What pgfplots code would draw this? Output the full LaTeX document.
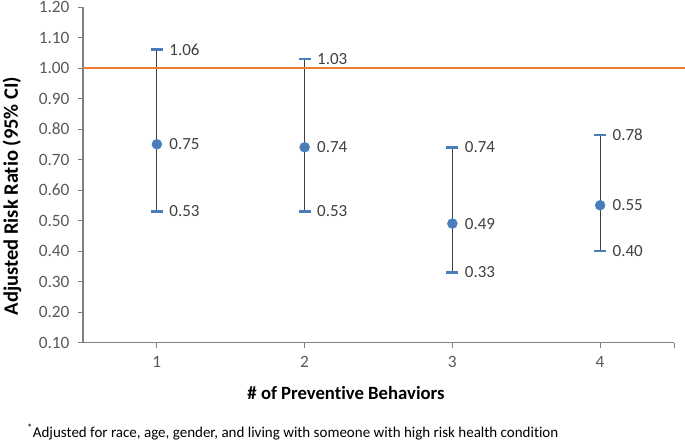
\documentclass[border=0pt]{standalone}
\usepackage{pgfplots}
\pgfplotsset{compat=1.18}
\usepackage{pgfplotstable}
\usepackage{fontspec}
\setmainfont{Carlito}[Ligatures={NoCommon}]
\definecolor{ptblue}{HTML}{4A7EBB}
\definecolor{ptorange}{HTML}{ED7D31}
\definecolor{axgray}{HTML}{595959}
\definecolor{linegray}{HTML}{7F7F7F}
\definecolor{txtgray}{HTML}{404040}

\pgfplotstableread{
x mid lo hi
1 0.75 0.53 1.06
2 0.74 0.53 1.03
3 0.49 0.33 0.74
4 0.55 0.40 0.78
}\datatab

\begin{document}
\begin{tikzpicture}[x=1pt,y=1pt]
\begin{axis}[
  at={(0,0)}, anchor=south west,
  scale only axis, width=591pt, height=335.5pt,
  xmin=0.5, xmax=4.5, ymin=0.1, ymax=1.2,
  xtick={1,2,3,4},
  extra x ticks={4.5}, extra x tick labels={},
  ytick={0.1,0.2,0.3,0.4,0.5,0.6,0.7,0.8,0.9,1.0,1.1,1.2},
  yticklabel={\pgfmathprintnumber[fixed,fixed zerofill,precision=2]{\tick}},
  axis x line*=bottom, axis y line*=left,
  tick align=outside, major tick length=5pt,
  axis line style={linegray, line width=1.5pt, -},
  tick style={linegray, line width=0.9pt},
  ticklabel style={font=\fontsize{17.3}{20}\selectfont, text=axgray},
  xticklabel style={yshift=-5pt},
  yticklabel style={xshift=-5pt},
  /pgf/number format/assume math mode=true,
  clip=false,
]
% vertical CI lines with caps
\addplot[draw=none, mark=none, forget plot,
  error bars/.cd, y dir=both, y explicit,
  error bar style={txtgray, line width=0.8pt},
  error mark options={ptblue, line width=2.5pt, mark size=6pt, rotate=90}]
  table[x=x, y=mid,
        y error plus expr=\thisrow{hi}-\thisrow{mid},
        y error minus expr=\thisrow{mid}-\thisrow{lo}] {\datatab};
% reference line at 1.00
\addplot[ptorange, line width=1.4pt, forget plot] coordinates {(0.5,1.0) (4.575,1.0)};
% points with labels
\addplot[only marks, mark=*, mark size=5pt, mark options={draw=ptblue, fill=ptblue},
  point meta=y,
  nodes near coords={\pgfmathprintnumber[fixed,fixed zerofill,precision=2]{\pgfplotspointmeta}},
  nodes near coords style={anchor=west, xshift=9pt, font=\fontsize{17}{20}\selectfont, text=txtgray}]
  table[x=x, y=mid] {\datatab};
% upper labels
\addplot[only marks, mark=none, point meta=y,
  nodes near coords={\pgfmathprintnumber[fixed,fixed zerofill,precision=2]{\pgfplotspointmeta}},
  nodes near coords style={anchor=west, xshift=9pt, font=\fontsize{17}{20}\selectfont, text=txtgray}]
  table[x=x, y=hi] {\datatab};
% lower labels
\addplot[only marks, mark=none, point meta=y,
  nodes near coords={\pgfmathprintnumber[fixed,fixed zerofill,precision=2]{\pgfplotspointmeta}},
  nodes near coords style={anchor=west, xshift=9pt, font=\fontsize{17}{20}\selectfont, text=txtgray}]
  table[x=x, y=lo] {\datatab};
\end{axis}
\node[font=\bfseries\fontsize{18.7}{21}\selectfont] at (263,-50.5) {\# of Preventive Behaviors};
\node[rotate=90, font=\bfseries\fontsize{20.5}{23}\selectfont] at (-71,146.5) {Adjusted Risk Ratio (95\% CI)};
\node[anchor=west, inner sep=0pt, font=\fontsize{15}{18}\selectfont] at (-56,-89.5) {\textsuperscript{*}Adjusted for race, age, gender, and living with someone with high risk health condition};
\pgfresetboundingbox
\path[use as bounding box] (-83,-97.5) rectangle (602,342.5);
\end{tikzpicture}
\end{document}
